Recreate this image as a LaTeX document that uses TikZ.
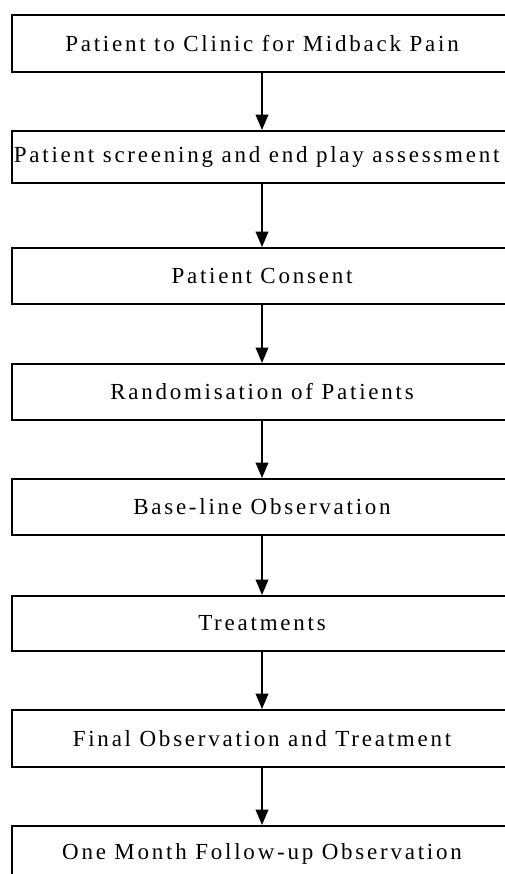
\documentclass[tikz,border=0pt]{standalone}
\usepackage{fontspec}
\setmainfont{Liberation Serif}[LetterSpace=12]
\usetikzlibrary{arrows.meta}
\begin{document}
\begin{tikzpicture}[x=0.75pt,y=-0.75pt,
  box/.style={draw=black, line width=1.2pt, minimum width=375pt, inner sep=0pt,
    anchor=north, font=\fontsize{17.25}{20}\selectfont},
  arr/.style={draw=black, line width=1pt, -{Triangle[width=9.5pt,length=11.5pt]}}]
\useasboundingbox (0,0) rectangle (505,874);
\clip (0,0) rectangle (505,874);
\node[box, minimum height=42.75pt] (b1) at (262,14) {Patient to Clinic for Midback Pain};
\node[box, minimum height=39pt] (b2) at (262,130) {\hspace*{-8pt}Patient screening and end play assessment};
\node[box, minimum height=42pt] (b3) at (262,247) {Patient Consent};
\node[box, minimum height=42pt] (b4) at (262,363) {Randomisation of Patients};
\node[box, minimum height=42pt] (b5) at (262,478) {Base-line Observation};
\node[box, minimum height=41.25pt] (b6) at (262,595) {Treatments};
\node[box, minimum height=42.75pt] (b7) at (262,709) {Final Observation and Treatment};
\node[box, minimum height=42pt] (b8) at (262,825) {One Month Follow-up Observation};
\draw[arr] (b1.south) -- (b2.north);
\draw[arr] (b2.south) -- (b3.north);
\draw[arr] (b3.south) -- (b4.north);
\draw[arr] (b4.south) -- (b5.north);
\draw[arr] (b5.south) -- (b6.north);
\draw[arr] (b6.south) -- (b7.north);
\draw[arr] (b7.south) -- (b8.north);
\end{tikzpicture}
\end{document}
